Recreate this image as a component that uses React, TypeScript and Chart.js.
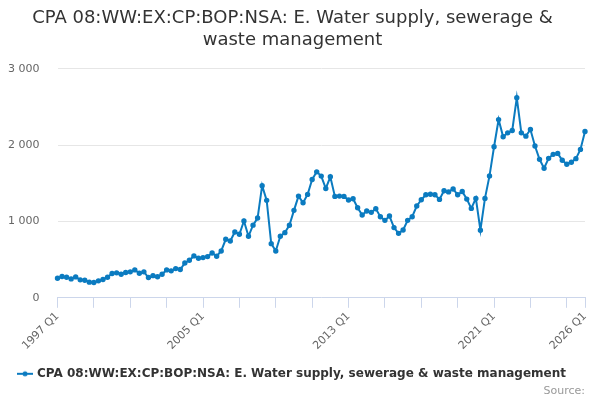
import React, { useEffect, useRef } from "react";
import { Chart, registerables } from "chart.js";

Chart.register(...registerables);

const TITLE = ["CPA 08:WW:EX:CP:BOP:NSA: E. Water supply, sewerage &", "waste management"];
const SERIES_NAME = "CPA 08:WW:EX:CP:BOP:NSA: E. Water supply, sewerage & waste management";
const FIRST_YEAR = 1997;

// quarterly values, 1997 Q1 .. 2026 Q1
const values1997to2008 = [
  257, 279, 270, 248, 274, 235, 231, 205, 200, 222, 240, 270,
  318, 327, 309, 331, 340, 366, 322, 340, 266, 290, 275, 309,
  366, 353, 383, 370, 457, 492, 549, 518, 527, 540, 588, 545,
  614, 767, 745, 863, 832, 1006, 806, 952, 1045, 1470, 1277, 710,
];
const values2009to2020 = [
  614, 806, 854, 950, 1146, 1333, 1246, 1355, 1551, 1651, 1595, 1433,
  1586, 1329, 1333, 1329, 1281, 1298, 1181, 1085, 1137, 1120, 1168, 1063,
  1015, 1072, 920, 845, 889, 1015, 1063, 1203, 1285, 1351, 1357, 1350,
  1290, 1403, 1388, 1427, 1350, 1394, 1294, 1172, 1303, 886, 1303, 1598,
];
const values2021to2026 = [
  1980, 2336, 2110, 2162, 2193, 2623, 2162, 2119, 2206, 1989, 1815, 1698,
  1828, 1880, 1893, 1802, 1750, 1776, 1824, 1945, 2180,
];
const values = [...values1997to2008, ...values2009to2020, ...values2021to2026];

const quarters = values.map((_, i) => `${FIRST_YEAR + Math.floor(i / 4)} Q${(i % 4) + 1}`);
const yTicks = [0, 1000, 2000, 3000];

const LINE = "#0b7bc0";
const FONT = "'DejaVu Sans', sans-serif";

function legendMarker() {
  const c = document.createElement("canvas");
  c.width = 16;
  c.height = 8;
  const g = c.getContext("2d")!;
  g.strokeStyle = LINE;
  g.lineWidth = 2;
  g.beginPath();
  g.moveTo(0, 4);
  g.lineTo(16, 4);
  g.stroke();
  g.fillStyle = LINE;
  g.beginPath();
  g.arc(8, 4, 2.5, 0, Math.PI * 2);
  g.fill();
  return c;
}

export default function App() {
  const canvasRef = useRef<HTMLCanvasElement>(null);

  useEffect(() => {
    document.body.style.margin = "0";
    const marker = legendMarker();
    const last = values.length - 1;

    const chart = new Chart(canvasRef.current!, {
      type: "line",
      data: {
        labels: quarters,
        datasets: [
          {
            label: SERIES_NAME,
            data: values,
            borderColor: LINE,
            backgroundColor: LINE,
            borderWidth: 2,
            pointRadius: 1.7,
            pointHoverRadius: 3,
            tension: 0,
          },
        ],
      },
      options: {
        animation: false,
        responsive: false,
        layout: { padding: { left: 0, right: 15, top: 0, bottom: 0 } },
        plugins: {
          title: {
            display: true,
            text: TITLE,
            color: "#333333",
            font: { family: FONT, size: 18, weight: "normal", lineHeight: 1.22 },
            padding: { top: 7, bottom: 18 },
          },
          subtitle: {
            display: true,
            position: "bottom",
            align: "end",
            text: "Source:",
            color: "#999999",
            font: { family: FONT, size: 11, weight: "normal" },
            padding: { top: -5, bottom: 2 },
          },
          legend: {
            position: "bottom",
            labels: {
              usePointStyle: true,
              color: "#333333",
              font: { family: FONT, size: 12, weight: "bold" },
              padding: 2,
              generateLabels: (ch) =>
                ch.data.datasets.map((ds, i) => ({
                  text: ds.label as string,
                  fillStyle: LINE,
                  strokeStyle: LINE,
                  pointStyle: marker,
                  hidden: false,
                  datasetIndex: i,
                  fontColor: "#333333",
                })),
            },
          },
          tooltip: { enabled: false },
        },
        scales: {
          x: {
            type: "category",
            offset: false,
            afterBuildTicks: (scale) => {
              const t = [];
              for (let i = 0; i < last; i += 8) t.push({ value: i });
              t.push({ value: last });
              scale.ticks = t;
            },
            afterFit: (scale) => {
              scale.height = 68;
            },
            ticks: {
              autoSkip: false,
              minRotation: 45,
              maxRotation: 45,
              padding: 2,
              color: "#666666",
              font: { family: FONT, size: 11 },
              callback: (v) => {
                const i = Number(v);
                return i % 32 === 0 || i === last ? quarters[i] : "";
              },
            },
            grid: {
              drawOnChartArea: false,
              drawTicks: true,
              tickLength: 10,
              color: "#ccd6eb",
            },
            border: { display: true, color: "#ccd6eb", width: 1 },
          },
          y: {
            min: 0,
            max: 3000,
            afterBuildTicks: (scale) => {
              scale.ticks = yTicks.map((v) => ({ value: v }));
            },
            afterFit: (scale) => {
              scale.width = 57.5;
            },
            ticks: {
              padding: 18,
              color: "#666666",
              font: { family: FONT, size: 11 },
              callback: (v) => String(v).replace(/\B(?=(\d{3})+(?!\d))/g, " "),
            },
            grid: { color: "#e6e6e6", drawTicks: false },
            border: { display: false },
          },
        },
      },
    });

    return () => chart.destroy();
  }, []);

  return (
    <div style={{ position: "relative", width: 600, height: 400 }}>
      <canvas ref={canvasRef} width={600} height={400} />
    </div>
  );
}
